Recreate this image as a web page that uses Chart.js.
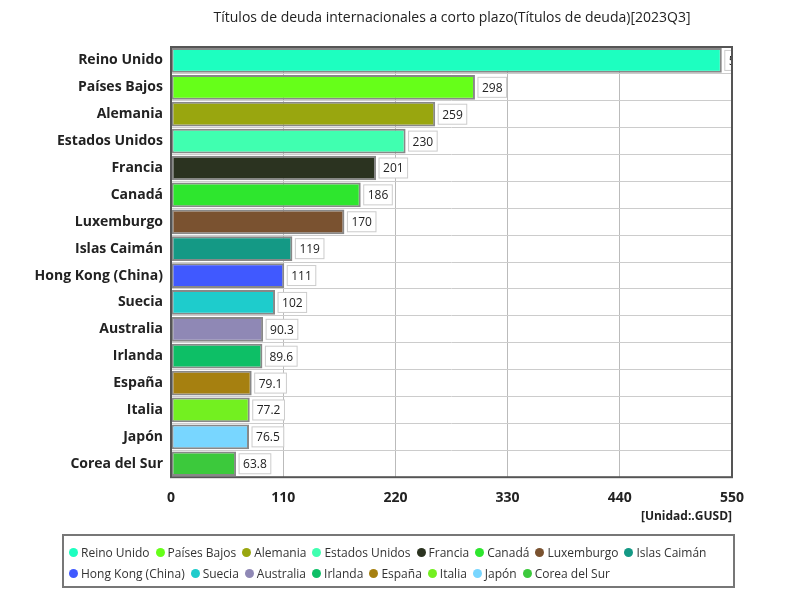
<!DOCTYPE html>
<html lang="es">
<head>
    <meta charset="UTF-8">
    <title>Títulos de deuda internacionales a corto plazo</title>
    <script src="https://cdn.jsdelivr.net/npm/chart.js"></script>
    <style>
        body { margin: 0; font-family: "Open Sans", sans-serif; background: #fff; }
        #wrap { position: relative; width: 800px; height: 600px; }
        #legend {
            position: absolute; left: 62px; top: 534px; width: 673px; height: 54px;
            border: 2px solid #777; box-sizing: border-box; padding: 6px 0 0 5px;
            font-size: 12px; color: #333; line-height: 21px;
        }
        #legend span { margin-right: 6px; white-space: nowrap; }
        #legend i { display: inline-block; width: 9px; height: 9px; border-radius: 50%; margin-right: 3px; }
    </style>
</head>
<body>
<div id="wrap">
    <canvas id="chartCanvas" width="800" height="600"></canvas>
    <div id="legend"></div>
</div>
<script>
    const countries = ['Reino Unido', 'Países Bajos', 'Alemania', 'Estados Unidos', 'Francia', 'Canadá',
        'Luxemburgo', 'Islas Caimán', 'Hong Kong (China)', 'Suecia', 'Australia', 'Irlanda',
        'España', 'Italia', 'Japón', 'Corea del Sur'];
    const values = [540, 298, 259, 230, 201, 186, 170, 119, 111, 102, 90.3, 89.6, 79.1, 77.2, 76.5, 63.8];
    const colors = ['#1dffc0', '#66ff19', '#99a60f', '#40ffb0', '#2b3320', '#2ee62e', '#7a5230', '#149985',
        '#4059ff', '#1ecccc', '#8f88b5', '#0dbf66', '#a68010', '#73f020', '#78d6ff', '#3cc93c'];
    const xTicks = [0, 110, 220, 330, 440, 550];

    const legend = document.getElementById('legend');
    countries.forEach((c, i) => {
        legend.innerHTML += `<span><i style="background:${colors[i]}"></i>${c}</span>`;
        if (i === 7) legend.innerHTML += '<br>';
    });

    const extras = {
        id: 'extras',
        afterDatasetsDraw(chart) {
            const ctx = chart.ctx;
            const area = chart.chartArea;
            const meta = chart.getDatasetMeta(0);
            ctx.save();
            ctx.font = '12px "Open Sans", sans-serif';
            ctx.textBaseline = 'middle';
            meta.data.forEach((bar, i) => {
                const txt = String(values[i]);
                const w = ctx.measureText(txt).width + 8;
                const x = bar.x + 3;
                ctx.fillStyle = '#fff';
                ctx.fillRect(x, bar.y - 10, w, 20);
                ctx.strokeStyle = '#ccc';
                ctx.lineWidth = 1;
                ctx.strokeRect(x, bar.y - 10, w, 20);
                ctx.fillStyle = '#222';
                ctx.fillText(txt, x + 4, bar.y + 1);
            });
            ctx.restore();
            // clip overflow to the right of the plot
            ctx.save();
            ctx.fillStyle = '#fff';
            ctx.fillRect(area.right + 1, area.top, 70, area.bottom - area.top);
            ctx.strokeStyle = '#555';
            ctx.lineWidth = 2;
            ctx.strokeRect(area.left, area.top, area.right - area.left, area.bottom - area.top);
            ctx.fillStyle = '#222';
            ctx.font = '14px "Open Sans", sans-serif';
            ctx.textAlign = 'center';
            ctx.fillText('Títulos de deuda internacionales a corto plazo(Títulos de deuda)[2023Q3]', 452, 22);
            ctx.font = 'bold 12px "Open Sans", sans-serif';
            ctx.textAlign = 'right';
            ctx.fillText('[Unidad:.GUSD]', area.right, 520);
            ctx.restore();
        }
    };

    new Chart(document.getElementById('chartCanvas'), {
        type: 'bar',
        data: {
            labels: countries,
            datasets: [{
                data: values,
                backgroundColor: colors,
                borderColor: '#888',
                borderWidth: 2,
                borderSkipped: false,
                categoryPercentage: 1,
                barPercentage: 0.92
            }]
        },
        options: {
            indexAxis: 'y',
            responsive: false,
            animation: false,
            layout: { padding: { top: 47, bottom: 82, left: 5, right: 68 } },
            plugins: { legend: { display: false }, tooltip: { enabled: false } },
            scales: {
                x: {
                    min: 0, max: 550,
                    afterBuildTicks: axis => { axis.ticks = xTicks.map(v => ({ value: v })); },
                    grid: { color: '#bbb', lineWidth: 1, drawTicks: false },
                    border: { display: false },
                    ticks: { color: '#222', padding: 12, font: { size: 14, weight: 'bold', family: '"Open Sans", sans-serif' } }
                },
                y: {
                    afterFit: axis => { axis.width = 166; },
                    grid: { color: '#ccc', offset: true, drawTicks: false },
                    border: { display: false },
                    ticks: { color: '#222', padding: 8, font: { size: 14, weight: 'bold', family: '"Open Sans", sans-serif' } }
                }
            }
        },
        plugins: [extras]
    });
</script>
</body>
</html>
